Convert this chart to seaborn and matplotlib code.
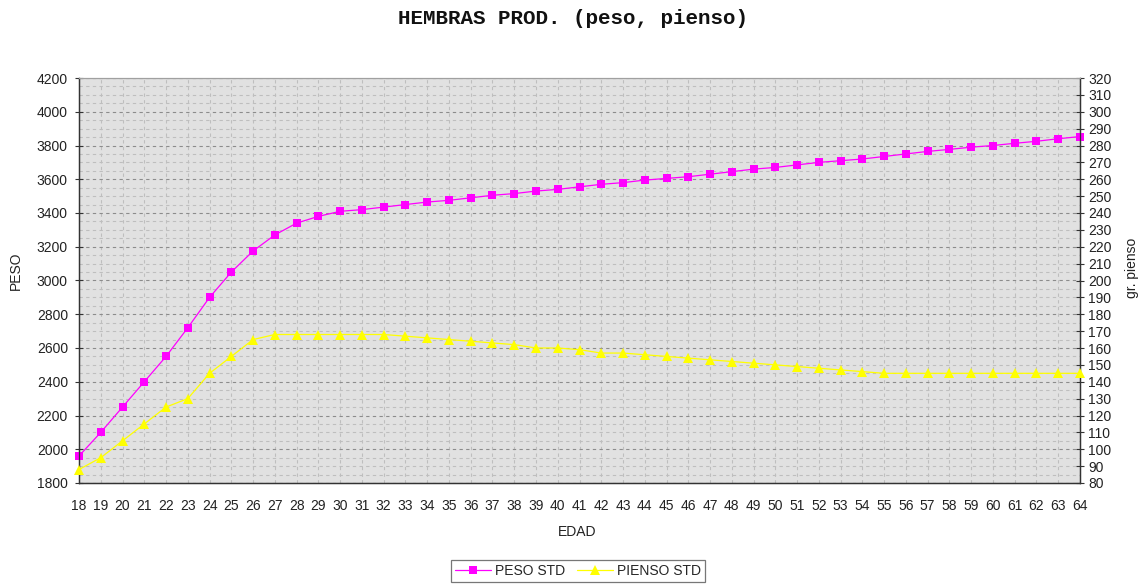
import matplotlib
matplotlib.use("Agg")
import matplotlib.pyplot as plt
from matplotlib.ticker import MultipleLocator
from matplotlib.lines import Line2D
import seaborn as sns
import pandas as pd

# Weekly standards for production hens
edad = [18, 19, 20, 21, 22, 23, 24, 25, 26, 27, 28, 29, 30, 31, 32, 33,
        34, 35, 36, 37, 38, 39, 40, 41, 42, 43, 44, 45, 46, 47, 48, 49,
        50, 51, 52, 53, 54, 55, 56, 57, 58, 59, 60, 61, 62, 63, 64]
peso_std = [1960, 2100, 2250, 2400, 2550, 2720, 2900, 3050, 3175, 3270,
            3340, 3380, 3410, 3420, 3435, 3450, 3465, 3475, 3490, 3505,
            3515, 3530, 3540, 3555, 3570, 3580, 3595, 3605, 3615, 3630,
            3645, 3660, 3670, 3685, 3700, 3710, 3720, 3735, 3750, 3765,
            3777, 3790, 3800, 3813, 3825, 3840, 3853]
pienso_std = [88, 95, 105, 115, 125, 130, 145, 155, 165, 168,
              168, 168, 168, 168, 168, 167, 166, 165, 164, 163,
              162, 160, 160, 159, 157, 157, 156, 155, 154, 153,
              152, 151, 150, 149, 148, 147, 146, 145, 145, 145,
              145, 145, 145, 145, 145, 145, 145]

df = pd.DataFrame({"EDAD": edad, "PESO STD": peso_std, "PIENSO STD": pienso_std})

sns.set_style("white")
plt.rcParams["font.family"] = ["Liberation Sans", "DejaVu Sans"]

MAGENTA = "#FF00FF"
YELLOW = "#FFFF00"
SQ_SIZE = 5.6
TRI_SIZE = 7

W, H = 1139, 585
fig = plt.figure(figsize=(W / 100, H / 100), dpi=100)
L, R, T, B = 79, 1080, 78, 483
ax = fig.add_axes([L / W, 1 - B / H, (R - L) / W, (B - T) / H])
ax.set_facecolor("#E1E1E1")
ax2 = ax.twinx()
ax2.patch.set_visible(False)

# Weight on the left axis, feed on the right axis
sns.lineplot(data=df, x="EDAD", y="PESO STD", ax=ax, color=MAGENTA,
             marker="s", markersize=SQ_SIZE, markeredgecolor=MAGENTA,
             markeredgewidth=0, linewidth=0.9, zorder=3, clip_on=False)
sns.lineplot(data=df, x="EDAD", y="PIENSO STD", ax=ax2, color=YELLOW,
             marker="^", markersize=TRI_SIZE, markeredgecolor=YELLOW,
             markeredgewidth=0, linewidth=0.9, zorder=3, clip_on=False)

ax.set_xlim(18, 64)
ax.set_ylim(1800, 4200)
ax2.set_ylim(80, 320)
ax.xaxis.set_major_locator(MultipleLocator(1))
ax.yaxis.set_major_locator(MultipleLocator(200))
ax.yaxis.set_minor_locator(MultipleLocator(50))
ax2.yaxis.set_major_locator(MultipleLocator(10))

# Dashed grid: darker at major weight ticks, lighter in between and vertically
ax.set_axisbelow(True)
ax.grid(which="major", axis="y", color="#8C8C8C", linestyle=(0, (3, 3)), linewidth=0.8)
ax.grid(which="minor", axis="y", color="#BEBEBE", linestyle=(0, (3, 3)), linewidth=0.8)
ax.grid(which="major", axis="x", color="#BEBEBE", linestyle=(0, (3, 3)), linewidth=0.8)
ax2.grid(False)

for a in (ax, ax2):
    for side in ("left", "right", "bottom"):
        a.spines[side].set_color("#333333")
        a.spines[side].set_linewidth(0.9)
    a.spines["top"].set_color("#A0A0A0")
    a.spines["top"].set_linewidth(0.8)

ax.tick_params(axis="y", which="major", direction="inout", length=6, width=0.8,
               color="#333333", pad=5, labelsize=10, labelcolor="#222222")
ax.tick_params(axis="x", which="major", direction="inout", length=7, width=0.8,
               color="#333333", pad=8, labelsize=10, labelcolor="#222222")
ax.tick_params(which="minor", length=0)
ax2.tick_params(axis="y", direction="inout", length=6, width=0.8,
                color="#333333", pad=3, labelsize=10, labelcolor="#222222")

ax.set_xlabel("EDAD", fontsize=10, color="#222222")
ax.set_ylabel("PESO", fontsize=10, color="#222222")
ax2.set_ylabel("gr. pienso", fontsize=10, color="#222222")
ax.xaxis.set_label_coords((577 - L) / (R - L), -(532 - B) / (B - T))
ax.xaxis.label.set_va("center")
ax.yaxis.set_label_coords((16 - L) / (R - L), (B - 271) / (B - T))
ax.yaxis.label.set_va("center")
ax2.yaxis.set_label_coords((1132 - L) / (R - L), (B - 268) / (B - T))
ax2.yaxis.label.set_va("center")
ax2.yaxis.label.set_rotation(90)

fig.text(573 / W, 1 - 19 / H, "HEMBRAS PROD. (peso, pienso)",
         family=["Liberation Mono", "DejaVu Sans Mono"], weight="bold",
         fontsize=15, ha="center", va="center", color="#111111")

handles = [
    Line2D([], [], color=MAGENTA, marker="s", markersize=SQ_SIZE, markeredgewidth=0, linewidth=0.9),
    Line2D([], [], color=YELLOW, marker="^", markersize=TRI_SIZE, markeredgewidth=0, linewidth=0.9),
]
leg = fig.legend(handles, ["PESO STD", "PIENSO STD"], loc="upper center",
                 bbox_to_anchor=(578 / W, 1 - 560 / H), ncol=2, frameon=True,
                 fancybox=False, edgecolor="#555555", fontsize=10,
                 handlelength=2.6, handletextpad=0.3, columnspacing=0.8,
                 borderpad=0.3, borderaxespad=0)
leg.get_frame().set_linewidth(0.9)

fig.savefig("out.png", dpi=100, facecolor="white")
